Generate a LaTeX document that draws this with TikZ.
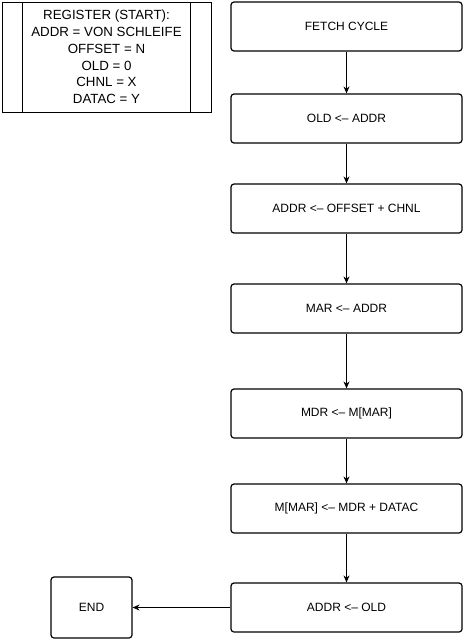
\documentclass[tikz,border=0pt]{standalone}
\usepackage{fontspec}
\setmainfont{Liberation Sans}
\usetikzlibrary{arrows.meta}
\begin{document}
\begin{tikzpicture}[x=1pt,y=-1pt,
  stepbox/.style={draw, line width=1.2pt, rounded corners=3pt, minimum width=231pt, minimum height=49pt, inner sep=0pt, font=\fontsize{12}{14}\selectfont},
  endbox/.style={draw, line width=1.2pt, rounded corners=3pt, minimum width=81pt, minimum height=61pt, inner sep=0pt, font=\fontsize{12}{14}\selectfont},
  conn/.style={line width=0.8pt, -{Stealth[length=7pt,width=6pt]}}]
\useasboundingbox (0,0) rectangle (464,642);
% register box
\draw[line width=0.8pt] (2,2) rectangle (211,112);
\draw[line width=0.8pt] (22,2) -- (22,112);
\draw[line width=0.8pt] (190,2) -- (190,112);
\node[align=center, font=\fontsize{13.3}{16.8}\selectfont, inner sep=0pt] (reg) at (106.5,57)
  {REGISTER (START):\\ADDR = VON SCHLEIFE\\OFFSET = N\\OLD = 0\\CHNL = X\\DATAC = Y};
% steps
\node[stepbox] (fetch) at (346.5,26.5) {FETCH CYCLE};
\node[stepbox] (old) at (346.5,118.5) {OLD <– ADDR};
\node[stepbox] (addr) at (346.5,208.5) {ADDR <– OFFSET + CHNL};
\node[stepbox] (mar) at (346.5,308.5) {MAR <– ADDR};
\node[stepbox] (mdr) at (346.5,413.5) {MDR <– M[MAR]};
\node[stepbox] (mmar) at (346.5,508.5) {M[MAR] <– MDR + DATAC};
\node[stepbox] (back) at (346.5,607.5) {ADDR <– OLD};
\node[endbox] (end) at (91.5,607.5) {END};
\draw[conn] (fetch) -- (old);
\draw[conn] (old) -- (addr);
\draw[conn] (addr) -- (mar);
\draw[conn] (mar) -- (mdr);
\draw[conn] (mdr) -- (mmar);
\draw[conn] (mmar) -- (back);
\draw[conn] (back) -- (end);
\end{tikzpicture}
\end{document}
